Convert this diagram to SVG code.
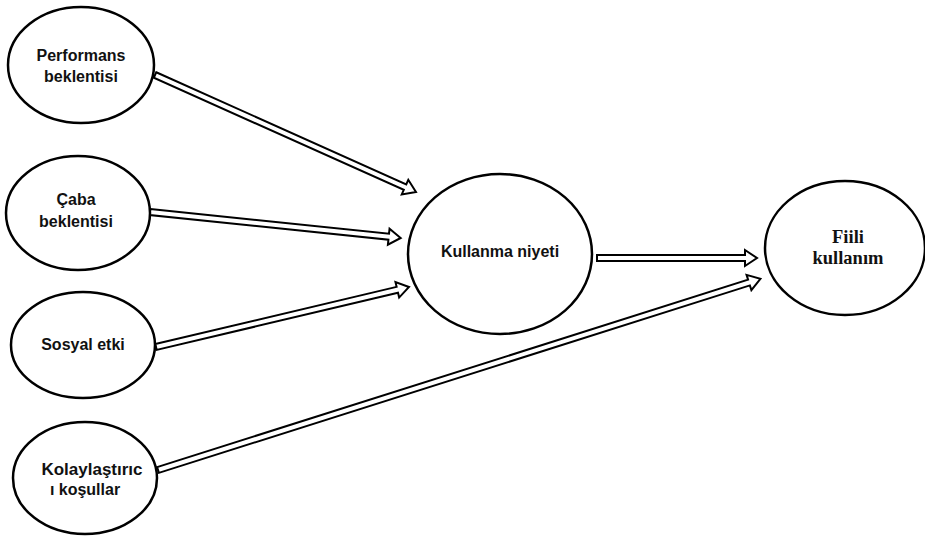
<svg xmlns="http://www.w3.org/2000/svg" width="925" height="536" viewBox="0 0 925 536">
<style>
.node ellipse{fill:#fff;stroke:#000;stroke-width:2.5}
.lbl{font-family:"Liberation Sans",Arial,sans-serif;font-weight:bold;font-size:16px;text-anchor:middle;fill:#111}
.lbl2{font-family:"Liberation Serif","Times New Roman",serif;font-weight:bold;font-size:18.5px;text-anchor:middle;fill:#111}
.arr{fill:#fff;stroke:#000;stroke-width:2;stroke-linejoin:miter}
</style>
<rect width="925" height="536" fill="#fff"/>
<g id="connectors">
<path class="arr" transform="translate(155,75) rotate(24.15)" d="M0,-3 H274 V-8 L286,0 L274,8 V3 H0 Z"/>
<path class="arr" transform="translate(150,212) rotate(5.91)" d="M0,-3 H240 V-8 L252,0 L240,8 V3 H0 Z"/>
<path class="arr" transform="translate(156,347) rotate(-13.34)" d="M0,-3 H248 V-8 L260,0 L248,8 V3 H0 Z"/>
<path class="arr" transform="translate(158,470) rotate(-17.6)" d="M0,-3 H620 V-8 L632,0 L620,8 V3 H0 Z"/>
<path class="arr" transform="translate(597,258)" d="M0,-3 H148 V-8 L160,0 L148,8 V3 H0 Z"/>
</g>
<g id="performans" class="node">
<ellipse cx="81" cy="65" rx="73" ry="58"/>
<text class="lbl" x="81" y="61">Performans</text>
<text class="lbl" x="81" y="82">beklentisi</text>
</g>
<g id="caba" class="node">
<ellipse cx="78" cy="213" rx="72" ry="57"/>
<text class="lbl" x="76" y="205">Çaba</text>
<text class="lbl" x="76" y="227">beklentisi</text>
</g>
<g id="sosyal" class="node">
<ellipse cx="83" cy="345" rx="72" ry="53"/>
<text class="lbl" x="83" y="350">Sosyal etki</text>
</g>
<g id="kolay" class="node">
<ellipse cx="85" cy="478" rx="72" ry="56"/>
<text class="lbl" x="92" y="475" style="font-size:17px">Kolaylaştırıc</text>
<text class="lbl" x="85" y="495">ı koşullar</text>
</g>
<g id="kullanma" class="node">
<ellipse cx="500" cy="254" rx="92" ry="80"/>
<text class="lbl" x="500" y="257">Kullanma niyeti</text>
</g>
<g id="fiili" class="node">
<ellipse cx="845" cy="248" rx="80" ry="67"/>
<text class="lbl2" x="848" y="243">Fiili</text>
<text class="lbl2" x="848" y="264">kullanım</text>
</g>
</svg>
